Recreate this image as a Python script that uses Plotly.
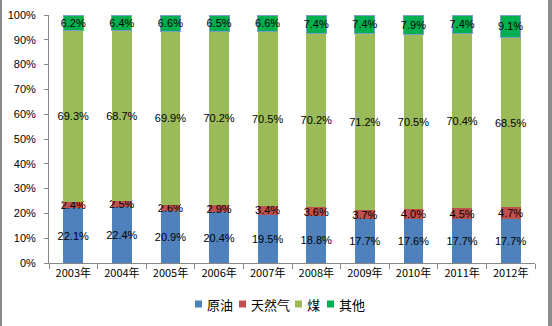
import plotly.graph_objects as go

years = ["2003年", "2004年", "2005年", "2006年", "2007年",
         "2008年", "2009年", "2010年", "2011年", "2012年"]
crude_oil = [22.1, 22.4, 20.9, 20.4, 19.5, 18.8, 17.7, 17.6, 17.7, 17.7]
natural_gas = [2.4, 2.5, 2.6, 2.9, 3.4, 3.6, 3.7, 4.0, 4.5, 4.7]
coal = [69.3, 68.7, 69.9, 70.2, 70.5, 70.2, 71.2, 70.5, 70.4, 68.5]
other = [6.2, 6.4, 6.6, 6.5, 6.6, 7.4, 7.4, 7.9, 7.4, 9.1]

series = [
    ("原油", crude_oil, "#4F81BD", "rgba(0,0,0,0)"),
    ("天然气", natural_gas, "#C0504D", "rgba(0,0,0,0)"),
    ("煤", coal, "#9BBB59", "rgba(0,0,0,0)"),
    ("其他", other, "#00B050", "#7E9CC8"),
]

W, H = 552, 326
L, R, T, B = 49, 17, 15, 63
PW, PH = W - L - R, H - T - B

fig = go.Figure()
for name, vals, color, edge in series:
    fig.add_trace(go.Bar(
        name=name, x=years, y=vals, showlegend=False,
        marker=dict(color=color, line=dict(color=edge, width=1)),
        text=[f"{v:.1f}%" for v in vals],
        textposition="inside", insidetextanchor="middle", textangle=0,
        textfont=dict(family="Liberation Sans, Arial", size=11, color="#000000"),
        constraintext="none",
        hoverinfo="skip",
    ))


def px_x(p):
    return (p - L) / PW


def px_y(p):
    return 1 - (p - T) / PH


# outer frame of the chart area
shapes = [
    dict(type="rect", xref="paper", yref="paper",
         x0=px_x(0), x1=px_x(2), y0=px_y(H), y1=px_y(0),
         fillcolor="#8C8C8C", line=dict(width=0), layer="below"),
    dict(type="rect", xref="paper", yref="paper",
         x0=px_x(548), x1=px_x(552), y0=px_y(H), y1=px_y(0),
         fillcolor="#8C8C8C", line=dict(width=0), layer="below"),
]
annotations = []

# compact legend row below the axis: square swatch followed by its label
legend_y = 304
legend_x = [195, 239, 295, 327]
sw = 7
for (name, _, color, _), x in zip(series, legend_x):
    shapes.append(dict(type="rect", xref="paper", yref="paper",
                       x0=px_x(x), x1=px_x(x + sw),
                       y0=px_y(legend_y + sw / 2), y1=px_y(legend_y - sw / 2),
                       fillcolor=color, line=dict(width=0)))
    annotations.append(dict(text=name, xref="paper", yref="paper",
                            x=px_x(x + sw + 3), y=px_y(legend_y),
                            xanchor="left", yanchor="middle", showarrow=False,
                            font=dict(family="Noto Sans CJK SC", size=13,
                                      color="#000000")))

fig.update_layout(
    width=W, height=H,
    margin=dict(l=L, r=R, t=T, b=B, pad=0, autoexpand=False),
    barmode="stack", bargap=0.59,
    paper_bgcolor="white", plot_bgcolor="white",
    font=dict(family="Liberation Sans, Arial", size=11, color="#000000"),
    uniformtext=dict(minsize=11, mode="show"),
    showlegend=False,
    xaxis=dict(showline=True, linecolor="#868686", linewidth=1,
               ticks="outside", tickson="boundaries", ticklen=5,
               tickcolor="#868686", showgrid=False, automargin=False,
               tickfont=dict(family="Noto Sans CJK SC", size=11, color="#000000")),
    yaxis=dict(range=[0, 100], tickvals=list(range(0, 101, 10)),
               ticktext=[f"{v}%" for v in range(0, 101, 10)],
               showline=True, linecolor="#868686", linewidth=1,
               ticks="outside", ticklen=4, tickcolor="#868686",
               showgrid=False, zeroline=False, ticklabelstandoff=6,
               automargin=False,
               tickfont=dict(family="Liberation Sans, Arial", size=11, color="#000000")),
    shapes=shapes,
    annotations=annotations,
)

fig.write_html("out.html")
